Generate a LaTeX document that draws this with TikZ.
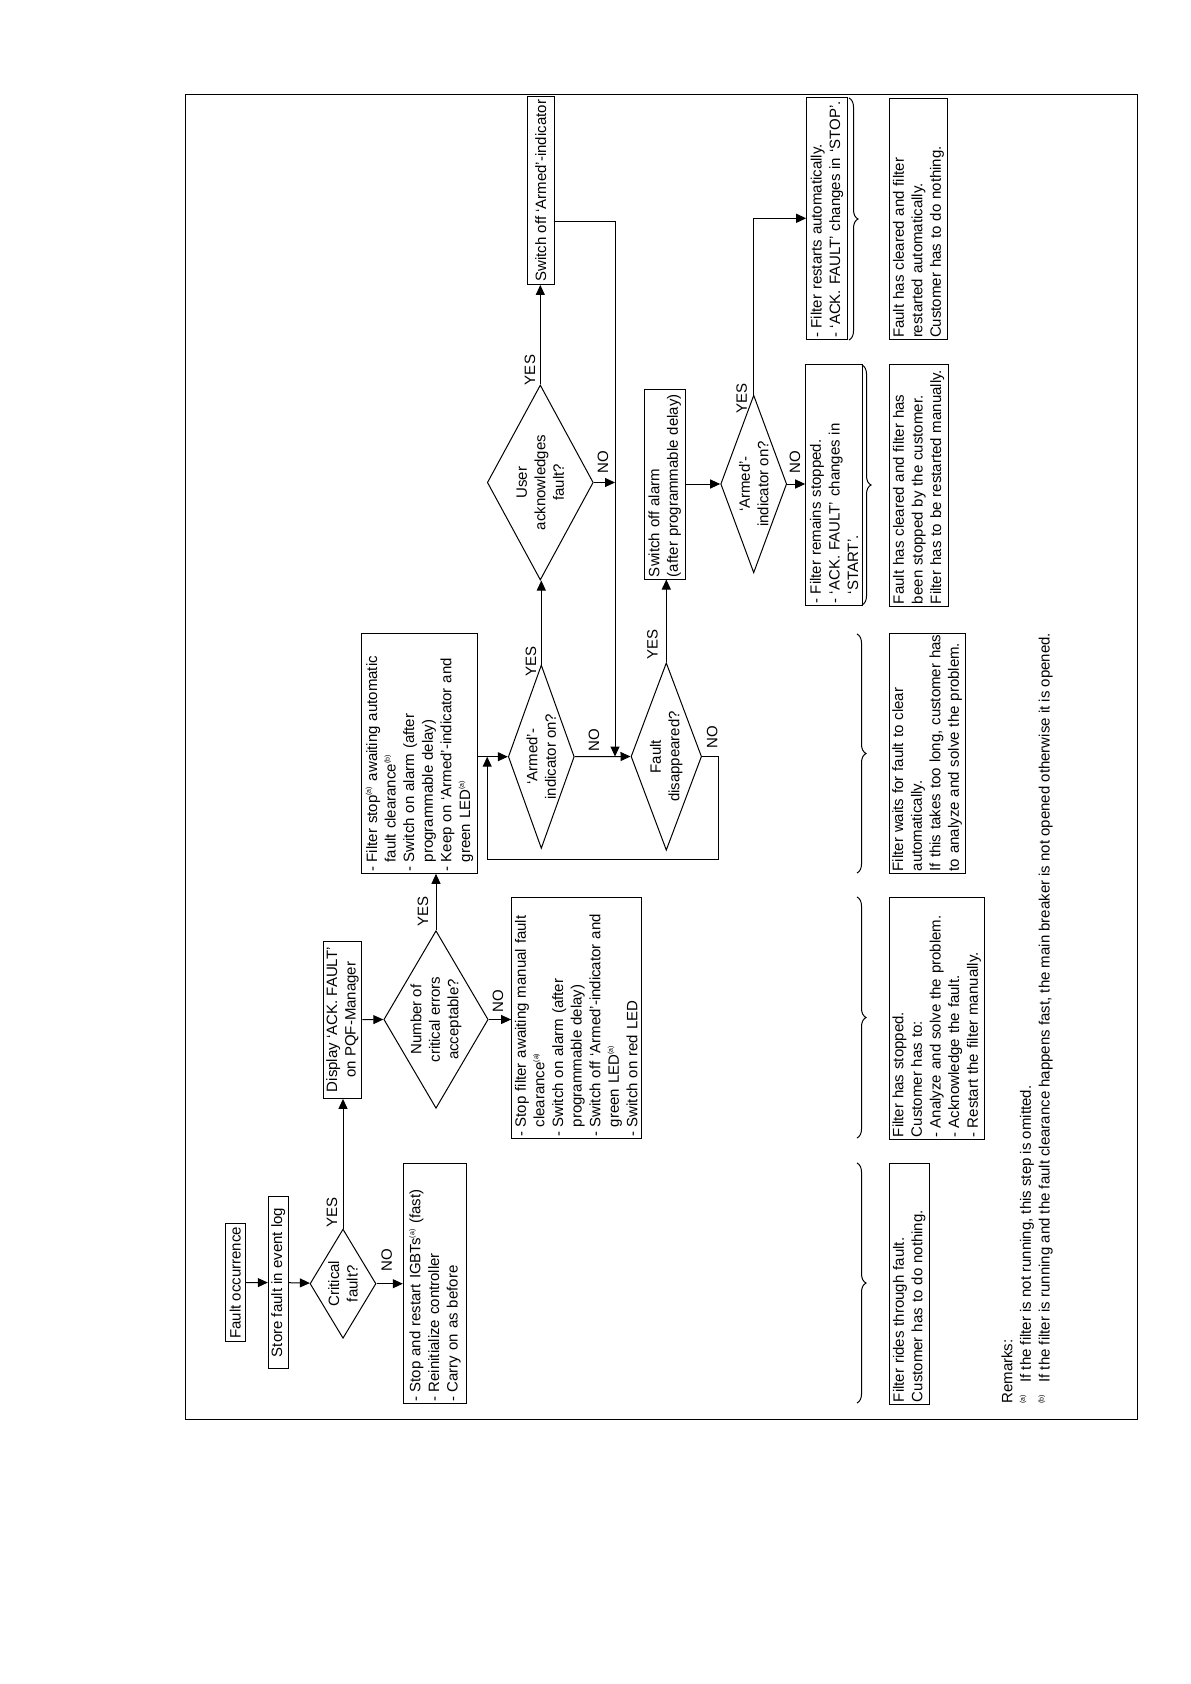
\documentclass[tikz,border=0pt]{standalone}
\usepackage{fontspec}
\setmainfont{Liberation Sans}
\usepackage{tikz}
\usetikzlibrary{shapes.geometric, arrows.meta, positioning, calc, decorations.pathreplacing}

\newcommand{\fnm}[1]{\textsuperscript{\fontsize{3.5}{4}\selectfont(#1)}}
\newcommand{\bul}{\makebox[4.5pt][l]{-}}
\newcommand{\contd}{\hspace*{4.5pt}}

\begin{document}
\begin{tikzpicture}[x=0.5pt, y=-0.5pt, line width=0.5pt,
    font=\fontsize{7.5}{9.3}\selectfont,
    box/.style={rectangle, draw, rotate=90, inner sep=1pt, align=left},
    tbox/.style={rectangle, draw, rotate=90, inner sep=1.5pt, align=center},
    dec/.style={diamond, draw, rotate=90, inner sep=0pt, align=center},
    lbl/.style={rotate=90, inner sep=0pt},
    arrow/.style={-{Triangle[length=5pt,width=4.5pt]}},
    brace/.style={decorate, decoration={brace, amplitude=4.5pt}}
]
\useasboundingbox (0,0) rectangle (1190,1684);
\draw (185,95) rectangle (1137,1419);

% first column
\node[tbox, minimum height=10.3pt] (fault) at (235.3,1282.7) {Fault occurrence};
\node[tbox, minimum width=85.8pt, minimum height=10pt] (store) at (278.3,1282.5) {Store fault in event log};
\node[dec, aspect=1.65, minimum width=54.6pt, minimum height=33pt] (crit) at (343,1283.7) {Critical\\fault?};
\node[box, text width=118pt, minimum height=31.7pt] (restart) at (435,1283.3)
    {\bul Stop and restart IGBTs\fnm{a} (fast)\\\bul Reinitialize controller\\\bul Carry on as before};

% second column
\node[tbox, minimum width=78.7pt, minimum height=19.2pt] (display) at (342.5,1019.7) {Display ‘ACK. FAULT’\\on PQF-Manager};
\node[dec, aspect=1.7, minimum width=88.8pt, minimum height=52.2pt] (num) at (436,1019.5) {Number of\\critical errors\\acceptable?};
\node[box, text width=118.5pt, minimum height=64.7pt] (manual) at (576.3,1017.8)
    {\bul Stop filter awaiting manual fault\\\contd clearance\fnm{a}\\\bul Switch on alarm (after\\\contd programmable delay)\\\bul Switch off ‘Armed’-indicator and\\\contd green LED\fnm{a}\\\bul Switch on red LED};

% third column
\node[box, text width=118pt, minimum height=57.8pt] (fstop) at (419.5,753.3)
    {\bul Filter stop\fnm{a} awaiting automatic\\\contd fault clearance\fnm{b}\\\bul Switch on alarm (after\\\contd programmable delay)\\\bul Keep on ‘Armed’-indicator and\\\contd green LED\fnm{a}};
\node[dec, aspect=2.7, minimum width=91.7pt, minimum height=33pt] (arm1) at (541.3,756.7) {‘Armed’-\\indicator on?};
\node[dec, aspect=2.6, minimum width=93.7pt, minimum height=35.3pt] (fdis) at (666.3,756.5) {Fault\\disappeared?};

% fourth column
\node[dec, aspect=1.84, minimum width=97.5pt, minimum height=53pt] (ack) at (540.3,482.5) {User\\acknowledges\\fault?};
\node[box, text width=92.5pt, minimum height=20.3pt] (alarm) at (664.7,484.5) {Switch off alarm\\(after programmable delay)};
\node[dec, aspect=2.7, minimum width=88.8pt, minimum height=33pt] (arm2) at (753.7,484) {‘Armed’-\\indicator on?};
\node[box, text width=118pt, minimum height=28.5pt] (remain) at (834.2,485)
    {\bul Filter remains stopped.\\\bul ‘ACK. FAULT’ changes in\\\contd ‘START’.};

% fifth column
\node[tbox, minimum height=13.5pt] (armoff) at (540.7,190.7) {Switch off ‘Armed’-indicator};
\node[box, text width=119pt, minimum height=20.3pt] (frest) at (827,218.3)
    {\bul Filter restarts automatically.\\\bul \mbox{‘ACK. FAULT’ changes in ‘STOP’.}};
\coordinate (drop) at (615,222);
\coordinate (loop) at (718.5,859.5);
\coordinate (back) at ([xshift=-10.3pt]arm1.north);

% result boxes
\node[box, text width=118.3pt, minimum height=20pt] (res1) at (909.3,1283.7) {Filter rides through fault.\\Customer has to do nothing.};
\node[box, text width=118.7pt, minimum height=47.3pt] (res2) at (936.7,1018.3)
    {Filter has stopped.\\Customer has to:\\\bul Analyze and solve the problem.\\\bul Acknowledge the fault.\\\bul Restart the filter manually.};
\node[box, text width=118pt, minimum height=37.8pt] (res3) at (927.2,753.3)
    {Filter waits for fault to clear\\automatically.\\\mbox{If this takes too long, customer has}\\to analyze and solve the problem.};
\node[box, text width=118.5pt, minimum height=29.3pt] (res4) at (918.7,485.5)
    {Fault has cleared and filter has\\been stopped by the customer.\\\mbox{Filter has to be restarted manually.}};
\node[box, text width=118.8pt, minimum height=29.2pt] (res5) at (918.5,219.2)
    {Fault has cleared and filter\\restarted automatically.\\Customer has to do nothing.};

\node[rotate=90, anchor=north west, inner sep=0pt, align=left] (remarks) at (1001,1404)
    {Remarks:\\\makebox[10.5pt][l]{\fnm{a}}If the filter is not running, this step is omitted.\\\makebox[10.5pt][l]{\fnm{b}}If the filter is running and the fault clearance happens fast, the main breaker is not opened otherwise it is opened.};

% connectors
\draw[arrow] (fault) -- (store);
\draw[arrow] (store) -- (crit);
\draw[arrow] (crit.east) -- (crit.east |- display.west);
\draw[arrow] (crit.south) -- (crit.south -| restart.north);
\draw[arrow] (display.south) -- (num.north);
\draw[arrow] (num.east) -- (num.east |- fstop.west);
\draw[arrow] (num.south) -- (num.south -| manual.north);
\draw[arrow] (fstop.south |- arm1.north) -- (arm1.north);
\draw[arrow] (arm1.east) -- (arm1.east |- ack.west);
\draw[arrow] (arm1.south) -- (fdis.north);
\draw[arrow] (fdis.south) -| (loop) -| (back);
\draw[arrow] (fdis.east) -- (fdis.east |- alarm.west);
\draw[arrow] (ack.east) -- (ack.east |- armoff.west);
\draw[arrow] (ack.south) -- (ack.south -| drop);
\draw[arrow] (armoff.south |- drop) -- (drop) -- (drop |- fdis.north);
\draw[arrow] (alarm.south |- arm2.north) -- (arm2.north);
\draw[arrow] (arm2.south) -- (arm2.south -| remain.north);
\draw[arrow] (arm2.east) |- (frest.north);

% YES / NO
\node[lbl] (critYes) at (332,1212.5) {YES};
\node[lbl] (critNo) at (386.7,1260) {NO};
\node[lbl] (numYes) at (423,911.5) {YES};
\node[lbl] (numNo) at (498,1001) {NO};
\node[lbl] (arm1Yes) at (531,661.5) {YES};
\node[lbl] (arm1No) at (594,740) {NO};
\node[lbl] (fdisYes) at (652.5,644) {YES};
\node[lbl] (fdisNo) at (712.3,737.5) {NO};
\node[lbl] (ackYes) at (530,370) {YES};
\node[lbl] (ackNo) at (603,462.5) {NO};
\node[lbl] (arm2Yes) at (741.7,398.3) {YES};
\node[lbl] (arm2No) at (795,462.5) {NO};

% braces
\draw[brace] (857,1163) -- (857,1403);
\draw[brace] (857,897) -- (857,1138);
\draw[brace] (857,634) -- (857,873);
\draw[brace] (862,365) -- (862,605);
\draw[brace] (849,98) -- (849,340);
\end{tikzpicture}
\end{document}
